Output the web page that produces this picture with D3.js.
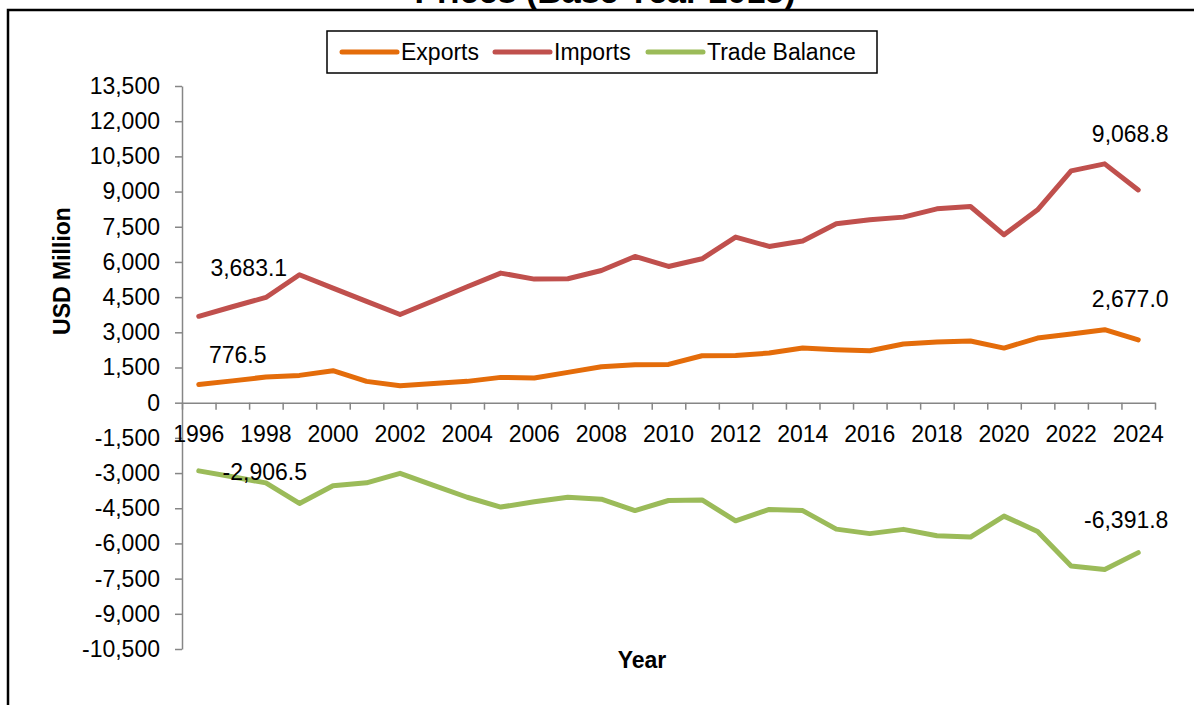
<!DOCTYPE html>
<html>
<head>
<meta charset="utf-8">
<script src="https://d3js.org/d3.v7.min.js"></script>
<style>
body { margin: 0; background: #fff; }
text { font-family: "Liberation Sans", Arial, sans-serif; fill: #000; }
.axis path, .axis line { stroke: #868686; stroke-width: 1.5; }
.axis text { font-size: 23px; }
</style>
</head>
<body>
<svg width="1194" height="705"></svg>
<script>

var years = d3.range(1996, 2025);
var exportsVals = [776.5, 930, 1094, 1164, 1363, 909, 724, 823, 909, 1079, 1051, 1292, 1534, 1619, 1633, 2002, 2016, 2115, 2328, 2258, 2215, 2499, 2585, 2628, 2328, 2755, 2925, 3110, 2677.0];
var importsVals = [3683.1, 4090, 4486, 5453, 4886, 4316, 3760, 4345, 4940, 5524, 5268, 5282, 5637, 6234, 5808, 6134, 7058, 6660, 6890, 7625, 7796, 7910, 8265, 8364, 7157, 8222, 9883, 10181, 9068.8];
var balanceVals = [-2906.5, -3160, -3420, -4295, -3540, -3415, -3010, -3522, -4031, -4450, -4225, -4030, -4115, -4600, -4170, -4145, -5035, -4550, -4600, -5390, -5581, -5400, -5675, -5730, -4835, -5490, -6965, -7110, -6391.8];
var yTicks = d3.range(-10500, 13501, 1500);
var xLabels = d3.range(1996, 2025, 2);

var seriesNames = ["Exports", "Imports", "Trade Balance"];
var seriesColors = ["#E46C0A", "#C0504D", "#9BBB59"];
var series = [exportsVals, importsVals, balanceVals];

// data labels: series index, year index, offset
var labels = [
  {s: 0, i: 0, dx: 39, dy: -21},
  {s: 1, i: 0, dx: 50, dy: -40},
  {s: 2, i: 0, dx: 66, dy: 9},
  {s: 0, i: 28, dx: -8, dy: -33},
  {s: 1, i: 28, dx: -8, dy: -48},
  {s: 2, i: 28, dx: -12, dy: -25}
];

var svg = d3.select("svg");
var margin = {left: 182, right: 39, top: 86, bottom: 56};
var W = 1194, H = 705;

var fmt = function(f) { return function(d) { return d3.format(f)(d).replace("\u2212", "-"); }; };

var x = d3.scaleBand().domain(years).range([margin.left, W - margin.right]).paddingInner(0).paddingOuter(0);
var xEdge = d3.scaleLinear().domain([0, years.length]).range([margin.left, W - margin.right]);
var y = d3.scaleLinear().domain([-10500, 13500]).range([H - margin.bottom, margin.top]);

// outer frame
svg.append("path")
  .attr("d", "M8,705 L8,10 L1194,10")
  .attr("fill", "none").attr("stroke", "#000").attr("stroke-width", 2.5);

// title (cut off at top, as in the source)
svg.append("text")
  .attr("x", 605).attr("y", 3)
  .attr("text-anchor", "middle")
  .style("font-size", "34px").style("font-weight", "bold")
  .text("Prices (Base Year 2015)");

// y axis
svg.append("g")
  .attr("class", "axis")
  .attr("transform", "translate(" + margin.left + ",0)")
  .call(d3.axisLeft(y).tickValues(yTicks).tickFormat(fmt(",")).tickSize(7).tickPadding(15).tickSizeOuter(0));

// x axis line + boundary ticks
svg.append("g")
  .attr("class", "axis")
  .attr("transform", "translate(0," + y(0) + ")")
  .call(d3.axisBottom(xEdge).tickValues(d3.range(0, years.length + 1)).tickFormat("").tickSize(7).tickSizeOuter(0));

// x labels
var xl = svg.append("g")
  .attr("class", "axis")
  .attr("transform", "translate(0," + y(0) + ")")
  .call(d3.axisBottom(x).tickValues(xLabels).tickSize(0).tickPadding(23));
xl.select(".domain").remove();

// lines
var line = d3.line()
  .x(function(d, i) { return x(years[i]) + x.bandwidth() / 2; })
  .y(function(d) { return y(d); });

series.forEach(function(vals, k) {
  svg.append("path")
    .datum(vals)
    .attr("fill", "none")
    .attr("stroke", seriesColors[k])
    .attr("stroke-width", 5)
    .attr("stroke-linejoin", "round")
    .attr("stroke-linecap", "round")
    .attr("d", line);
});

// data labels
svg.append("g").selectAll("text")
  .data(labels)
  .enter().append("text")
  .attr("x", function(d) { return x(years[d.i]) + x.bandwidth() / 2 + d.dx; })
  .attr("y", function(d) { return y(series[d.s][d.i]) + d.dy; })
  .attr("text-anchor", "middle")
  .style("font-size", "23px")
  .text(function(d) { return fmt(",.1f")(series[d.s][d.i]); });

// axis titles
svg.append("text")
  .attr("transform", "translate(70,271) rotate(-90)")
  .attr("text-anchor", "middle")
  .style("font-size", "23px").style("font-weight", "bold")
  .text("USD Million");

svg.append("text")
  .attr("x", 642).attr("y", 668)
  .attr("text-anchor", "middle")
  .style("font-size", "23px").style("font-weight", "bold")
  .text("Year");

// legend
var lg = svg.append("g");
lg.append("rect")
  .attr("x", 327).attr("y", 31).attr("width", 550).attr("height", 42)
  .attr("fill", "#fff").attr("stroke", "#000").attr("stroke-width", 1.5);
var legX = [342, 495, 648];
seriesNames.forEach(function(n, k) {
  lg.append("line")
    .attr("x1", legX[k]).attr("x2", legX[k] + 55)
    .attr("y1", 52).attr("y2", 52)
    .attr("stroke", seriesColors[k]).attr("stroke-width", 5)
    .attr("stroke-linecap", "round");
  lg.append("text")
    .attr("x", legX[k] + 59).attr("y", 60)
    .style("font-size", "23px")
    .text(n);
});

</script>
</body>
</html>
